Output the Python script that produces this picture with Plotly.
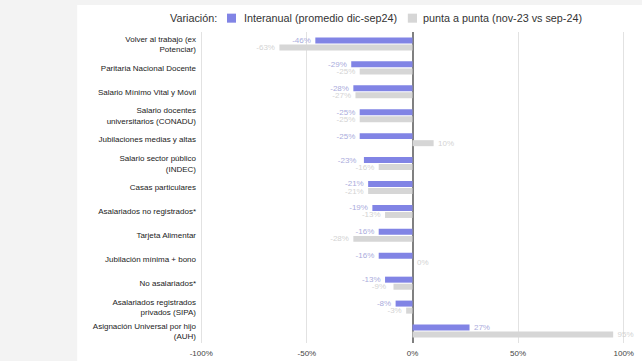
import plotly.graph_objects as go

categories = [
    "Volver al trabajo (ex<br>Potenciar)",
    "Paritaria Nacional Docente",
    "Salario Mínimo Vital y Móvil",
    "Salario docentes<br>universitarios (CONADU)",
    "Jubilaciones medias y altas",
    "Salario sector público<br>(INDEC)",
    "Casas particulares",
    "Asalariados no registrados*",
    "Tarjeta Alimentar",
    "Jubilación mínima + bono",
    "No asalariados*",
    "Asalariados registrados<br>privados (SIPA)",
    "Asignación Universal por hijo<br>(AUH)",
]
interanual = [-46, -29, -28, -25, -25, -23, -21, -19, -16, -16, -13, -8, 27]
punta = [-63, -25, -27, -25, 10, -16, -21, -13, -28, 0, -9, -3, 95]
series_names = ["Interanual (promedio dic-sep24)", "punta a punta (nov-23 vs sep-24)"]
legend_title = "Variación:"
tick_vals = [-100, -50, 0, 50, 100]
tick_text = ["-100%", "-50%", "0%", "50%", "100%"]

FONT = "Arial, Liberation Sans, sans-serif"
C_INT = "#8184e5"
C_PUN = "#d6d6d6"
NB = "\u00a0\u00a0"


def labels(vals):
    return [f"{v}%{NB}" if v < 0 else f"{NB}{v}%" for v in vals]


fig = go.Figure()
fig.add_trace(go.Bar(
    y=categories, x=interanual, orientation="h", name=series_names[0],
    marker=dict(color=C_INT, line=dict(width=0)),
    text=labels(interanual), textposition="outside",
    textfont=dict(size=8, color="#aaacdc", family=FONT),
    constraintext="none", cliponaxis=False, showlegend=False,
))
fig.add_trace(go.Bar(
    y=categories, x=punta, orientation="h", name=series_names[1],
    marker=dict(color=C_PUN, line=dict(width=0)),
    text=labels(punta), textposition="outside",
    textfont=dict(size=8, color="#d3d3d3", family=FONT),
    constraintext="none", cliponaxis=False, showlegend=False,
))

# manual legend (positions in paper coordinates)
LY = 1.045
fig.add_annotation(text=legend_title, xref="paper", yref="paper", x=0.045, y=LY,
                   xanchor="right", yanchor="middle", showarrow=False,
                   font=dict(size=10.8, color="#333333"))
fig.add_annotation(text=series_names[0], xref="paper", yref="paper", x=0.0988, y=LY,
                   xanchor="left", yanchor="middle", showarrow=False,
                   font=dict(size=10.8, color="#333333"))
fig.add_annotation(text=series_names[1], xref="paper", yref="paper", x=0.52, y=LY,
                   xanchor="left", yanchor="middle", showarrow=False,
                   font=dict(size=10.8, color="#333333"))

shapes = [
    dict(type="rect", xref="paper", yref="paper",
         x0=-0.289, x1=1.05, y0=-0.07, y1=1.087,
         fillcolor="white", line=dict(width=0), layer="below"),
    dict(type="rect", xref="paper", yref="paper",
         x0=0.0635, x1=0.0847, y0=1.030, y1=1.059,
         fillcolor=C_INT, line=dict(width=0)),
    dict(type="rect", xref="paper", yref="paper",
         x0=0.489, x1=0.5106, y0=1.030, y1=1.059,
         fillcolor=C_PUN, line=dict(width=0)),
]

fig.update_layout(
    width=642, height=361,
    barmode="group", bargap=0.41, bargroupgap=0.15,
    margin=dict(l=200, r=17, t=32, b=18, autoexpand=False),
    paper_bgcolor="#f3f3f3", plot_bgcolor="white",
    font=dict(family=FONT, size=8, color="#222222"),
    showlegend=False,
    shapes=shapes,
    xaxis=dict(
        range=[-100.6, 100.6], tickvals=tick_vals, ticktext=tick_text,
        showgrid=True, gridcolor="#e2e2e2", gridwidth=1,
        zeroline=True, zerolinecolor="#808080", zerolinewidth=1.5,
        tickfont=dict(size=8, color="#444444"), ticks="", ticklabelstandoff=4,
        fixedrange=True, automargin=False,
    ),
    yaxis=dict(
        autorange="reversed", showgrid=False, zeroline=False,
        tickfont=dict(size=8, color="#222222"), ticks="", ticklabelstandoff=3,
        automargin=False,
    ),
)

fig.write_html("out.html")
